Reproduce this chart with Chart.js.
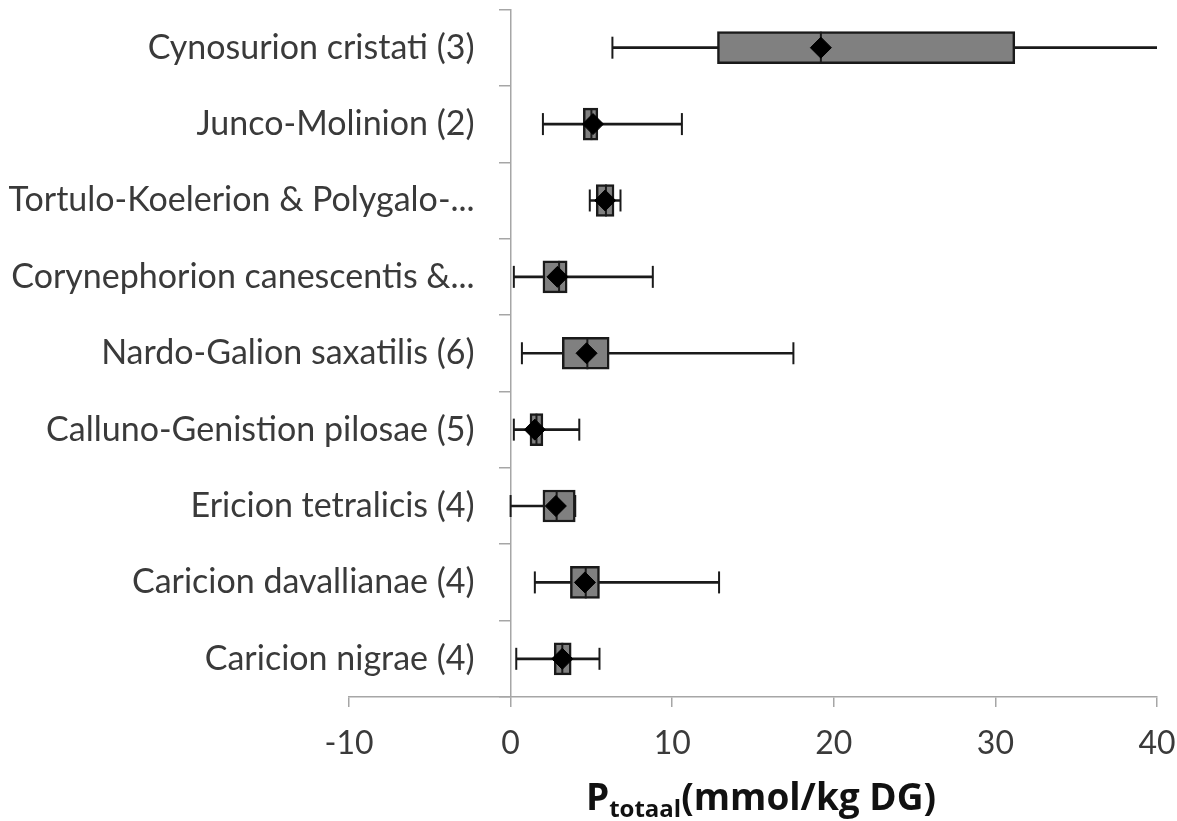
<!DOCTYPE html>
<html>
<head>
<meta charset="utf-8">
<script src="https://cdn.jsdelivr.net/npm/chart.js@4"></script>
<style>
  html, body { margin: 0; padding: 0; background: #fff; }
  #wrap { width: 1177px; height: 821px; }
</style>
</head>
<body>
<div id="wrap"><canvas id="boxChart" width="1177" height="821"></canvas></div>
<script>
const categories = [
  "Cynosurion cristati (3)",
  "Junco-Molinion (2)",
  "Tortulo-Koelerion & Polygalo-...",
  "Corynephorion canescentis &...",
  "Nardo-Galion saxatilis (6)",
  "Calluno-Genistion pilosae (5)",
  "Ericion tetralicis (4)",
  "Caricion davallianae (4)",
  "Caricion nigrae (4)"
];
const minVals    = [6.3, 2.0, 4.9, 0.2, 0.7, 0.2, 0.0, 1.5, 0.35];
const q1Vals     = [12.8, 4.5, 5.3, 2.0, 3.2, 1.2, 2.0, 3.7, 2.7];
const medianVals = [19.2, 5.0, 5.9, 3.0, 4.75, 1.6, 2.85, 4.65, 3.2];
const q3Vals     = [31.2, 5.4, 6.4, 3.5, 6.1, 2.0, 4.0, 5.5, 3.75];
const maxVals    = [41, 10.6, 6.8, 8.8, 17.5, 4.25, 4.0, 12.9, 5.5];
const meanVals   = [19.2, 5.1, 5.85, 2.9, 4.7, 1.5, 2.8, 4.6, 3.2];
const xTicks     = [-10, 0, 10, 20, 30, 40];

const FONT = "Lato, 'Open Sans', 'Liberation Sans', sans-serif";
const TITLE_FONT = "'Open Sans', Lato, sans-serif";
const TEXT = "#3a3a3a";
const AXIS = "#a6a6a6";
const INK = "#1a1a1a";

const pts = vals => categories.map((c, i) => ({ x: vals[i], y: c }));

// keep the plot area exactly where layout.padding puts it
const noPad = s => { s.paddingLeft = 0; s.paddingRight = 0; s.paddingTop = 0; s.paddingBottom = 0; };

// category names and the axis title are painted by hand
const labelPlugin = {
  id: "labels",
  afterDraw(chart) {
    const { ctx, scales: { x, y } } = chart;
    ctx.save();
    ctx.fillStyle = TEXT;
    ctx.font = "34px " + FONT;
    ctx.textAlign = "right";
    ctx.textBaseline = "middle";
    const right = x.getPixelForValue(0) - 36;
    categories.forEach((c, i) => ctx.fillText(c, right, y.getPixelForValue(i)));

    // P_totaal (mmol/kg DG)
    const big = "bold 37px " + TITLE_FONT, small = "bold 24px " + TITLE_FONT;
    const parts = [["P", big, 0], ["totaal", small, 7], ["(mmol/kg DG)", big, 0]];
    let w = 0;
    parts.forEach(p => { ctx.font = p[1]; w += ctx.measureText(p[0]).width; });
    let cx = (x.left + x.right) / 2 - w / 2 + 8;
    const base = 810;
    ctx.textAlign = "left";
    ctx.textBaseline = "alphabetic";
    ctx.fillStyle = "#111";
    parts.forEach(p => {
      ctx.font = p[1];
      ctx.fillText(p[0], cx, base + p[2]);
      cx += ctx.measureText(p[0]).width;
    });
    ctx.restore();
  }
};

new Chart(document.getElementById("boxChart"), {
  data: {
    labels: categories,
    datasets: [
      {
        type: "bar",
        label: "whisker",
        data: categories.map((c, i) => [minVals[i], maxVals[i]]),
        backgroundColor: INK,
        barThickness: 2,
        grouped: false,
        order: 5
      },
      {
        type: "line",
        label: "caps",
        data: pts(minVals).concat(pts(maxVals)),
        showLine: false,
        pointStyle: "line",
        rotation: 90,
        pointRadius: 11,
        pointBorderWidth: 2,
        borderColor: INK,
        order: 4
      },
      {
        type: "bar",
        label: "box",
        data: categories.map((c, i) => [q1Vals[i], q3Vals[i]]),
        backgroundColor: "#808080",
        borderColor: INK,
        borderWidth: 2.5,
        borderSkipped: false,
        barThickness: 32,
        grouped: false,
        order: 3
      },
      {
        type: "line",
        label: "median",
        data: pts(medianVals),
        showLine: false,
        pointStyle: "line",
        rotation: 90,
        pointRadius: 16,
        pointBorderWidth: 2,
        borderColor: INK,
        order: 2
      },
      {
        type: "line",
        label: "mean",
        data: pts(meanVals),
        showLine: false,
        pointStyle: "rectRot",
        pointRadius: 10.5,
        pointBackgroundColor: "#000",
        pointBorderColor: "#000",
        pointBorderWidth: 1,
        order: 1
      }
    ]
  },
  options: {
    indexAxis: "y",
    responsive: false,
    animation: false,
    layout: { autoPadding: false, padding: { left: 349, right: 20, top: 9.5, bottom: 41.6 } },
    plugins: { legend: { display: false }, tooltip: { enabled: false } },
    scales: {
      x: {
        type: "linear",
        position: "bottom",
        min: -10,
        max: 40,
        afterBuildTicks: s => { s.ticks = xTicks.map(v => ({ value: v })); },
        afterFit: noPad,
        grid: { drawOnChartArea: false, drawTicks: true, tickLength: 10, color: AXIS, lineWidth: 1.5 },
        border: { color: AXIS, width: 1.5 },
        ticks: { color: TEXT, font: { family: FONT, size: 32 }, padding: 17, maxRotation: 0 }
      },
      y: {
        type: "category",
        position: { x: 0 },
        offset: true,
        z: 1,
        afterFit: noPad,
        grid: { offset: true, drawOnChartArea: false, drawTicks: true, tickLength: 11, color: AXIS, lineWidth: 1.5 },
        border: { color: AXIS, width: 1.5 },
        ticks: { display: false }
      }
    }
  },
  plugins: [labelPlugin]
});
</script>
</body>
</html>
